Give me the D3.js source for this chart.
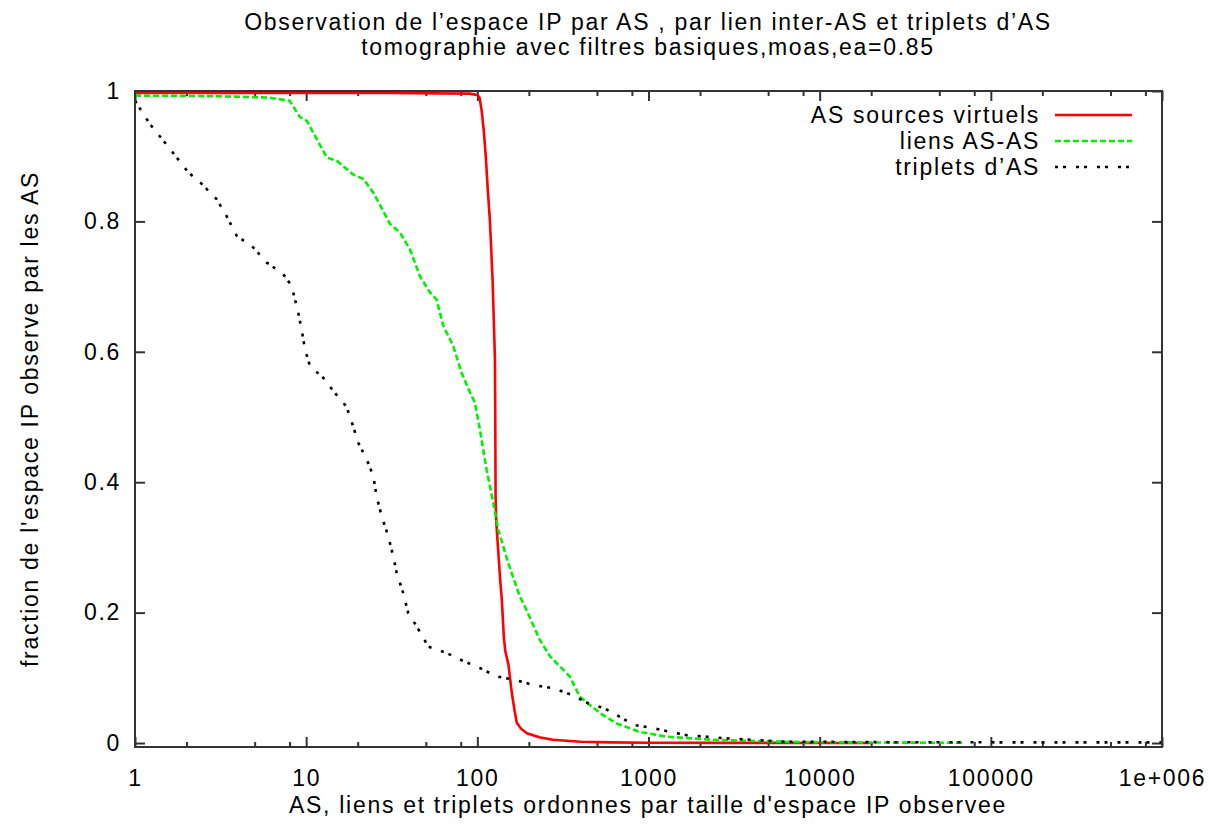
<!DOCTYPE html>
<html><head><meta charset="utf-8">
<script src="https://cdn.jsdelivr.net/npm/d3@7"></script>
<style>
html,body{margin:0;padding:0;background:#fff;}
text{font-family:"Liberation Sans",Arial,Helvetica,sans-serif;font-size:23px;fill:#000;letter-spacing:1.7px;}
</style></head>
<body><svg id="c" width="1210" height="829"></svg>
<script>
// ---- data ----
const titleLines = ["Observation de l’espace IP par AS , par lien inter-AS et triplets d’AS",
                    "tomographie avec filtres basiques,moas,ea=0.85"];
const xLabel = "AS, liens et triplets ordonnes par taille d'espace IP observee";
const yLabel = "fraction de l'espace IP observe par les AS";
const seriesNames = ["AS sources virtuels", "liens AS-AS", "triplets d’AS"];
const xTickValues = [1, 10, 100, 1000, 10000, 100000, 1000000];
const xTickLabels = ["1", "10", "100", "1000", "10000", "100000", "1e+006"];
const yTickValues = [0, 0.2, 0.4, 0.6, 0.8, 1];
const yTickLabels = ["0", "0.2", "0.4", "0.6", "0.8", "1"];

const redSeries = [[1,0.997],[30,0.997],[90,0.996],[100,0.994],[103,0.99],[106,0.97],[109,0.94],[112,0.9],[115,0.85],[118.5,0.8],[122.8,0.71],[126.7,0.59],[127.2,0.52],[127.5,0.45],[127.8,0.38],[129,0.34],[132,0.30],[136,0.25],[139,0.22],[141,0.19],[143,0.16],[146,0.14],[152,0.12],[159,0.077],[165,0.05],[170,0.031],[180,0.022],[195,0.015],[230,0.009],[276,0.005],[400,0.002],[600,0.001],[1000,0.0005],[3000,0.0002],[20000,0]];
const greenSeries = [[1,0.993],[3,0.992],[6,0.99],[8,0.985],[9.2,0.96],[10.1,0.954],[13.2,0.898],[15.1,0.893],[18.8,0.872],[21.6,0.865],[24.7,0.844],[28.2,0.816],[30.9,0.796],[35.3,0.783],[40.4,0.757],[46.2,0.716],[52.9,0.691],[57.8,0.68],[63.2,0.64],[72.3,0.609],[80.9,0.568],[90.5,0.538],[96.8,0.522],[103.5,0.481],[113.3,0.419],[123.8,0.369],[132.5,0.327],[151.6,0.276],[177.4,0.224],[185.4,0.215],[232,0.158],[265.5,0.133],[347,0.102],[397,0.071],[520,0.046],[651,0.03],[891,0.017],[1275,0.0097],[2500,0.0046],[7660,0.0015],[20000,0.0008],[68600,0.0003]];
const blackSeries = [[1,0.985],[1.224,0.949],[1.463,0.924],[1.752,0.898],[2.05,0.875],[2.4,0.86],[3.0,0.834],[3.43,0.808],[3.93,0.778],[4.91,0.76],[5.88,0.737],[7.35,0.719],[8.23,0.701],[8.99,0.66],[9.41,0.634],[9.84,0.604],[10.52,0.578],[12.6,0.56],[14.4,0.54],[17.2,0.516],[18.8,0.486],[20.2,0.46],[22.6,0.435],[24.7,0.409],[25.8,0.378],[27.6,0.348],[30.2,0.317],[32.3,0.286],[33.8,0.261],[36.9,0.23],[39.5,0.199],[44.2,0.179],[51.7,0.148],[66.2,0.138],[80.9,0.127],[103.5,0.115],[129.6,0.102],[166,0.097],[212,0.089],[277,0.084],[355,0.074],[444,0.061],[556,0.053],[681,0.04],[814,0.028],[1065,0.023],[1333,0.017],[1668,0.012],[2183,0.0097],[2857,0.0072],[3740,0.0055],[4893,0.0035],[6406,0.002],[30000,0.0012],[200000,0.001],[1000000,0.001]];
const seriesData = [redSeries, greenSeries, blackSeries];
const seriesColors = ["#ff0000", "#00f000", "#000000"];
const seriesDash = [null, "6,3", "3,5,3,10"];

// ---- layout ----
const L = 135, R = 1162, T = 91, B = 747;
const svg = d3.select("#c");
const x = d3.scaleLog().domain([1, 1e6]).range([L, R]);
const y = d3.scaleLinear().domain([-0.0061, 1]).range([B, T]);

svg.append("defs").append("clipPath").attr("id","clip")
  .append("rect").attr("x",L).attr("y",T).attr("width",R-L).attr("height",B-T);

// minor ticks at 2,5,8 per decade
const minorX = [];
for (let d = 1; d < 1e6; d *= 10) [2,5,8].forEach(m => minorX.push(d*m));

const tickColor = "#333";
const axB = d3.axisBottom(x).tickValues(xTickValues).tickFormat((d,i)=>xTickLabels[i]).tickSizeInner(-10).tickSizeOuter(0).tickPadding(23);
svg.append("g").attr("transform",`translate(0,${B})`).call(axB);
const axBm = d3.axisBottom(x).tickValues(minorX).tickFormat("").tickSizeInner(-5).tickSizeOuter(0);
svg.append("g").attr("transform",`translate(0,${B})`).call(axBm);
const axT = d3.axisTop(x).tickValues(xTickValues).tickFormat("").tickSizeInner(-10).tickSizeOuter(0);
svg.append("g").attr("transform",`translate(0,${T})`).call(axT);
const axTm = d3.axisTop(x).tickValues(minorX).tickFormat("").tickSizeInner(-5).tickSizeOuter(0);
svg.append("g").attr("transform",`translate(0,${T})`).call(axTm);
const axL = d3.axisLeft(y).tickValues(yTickValues).tickFormat((d,i)=>yTickLabels[i]).tickSizeInner(-10).tickSizeOuter(0).tickPadding(14);
svg.append("g").attr("transform",`translate(${L},0)`).call(axL);
const axR = d3.axisRight(y).tickValues(yTickValues).tickFormat("").tickSizeInner(-10).tickSizeOuter(0);
svg.append("g").attr("transform",`translate(${R},0)`).call(axR);

svg.selectAll(".domain").remove();
svg.selectAll(".tick line").attr("stroke",tickColor).attr("stroke-width",2);
svg.selectAll(".tick text").attr("font-size",23).attr("fill","#000")
  .style("font-family",'"Liberation Sans",Arial,sans-serif');

// series
const line = d3.line().x(d=>x(d[0])).y(d=>y(d[1]));
const gS = svg.append("g").attr("clip-path","url(#clip)");
seriesData.forEach((s,i)=>{
  gS.append("path").datum(s).attr("d",line).attr("fill","none")
    .attr("stroke",seriesColors[i]).attr("stroke-width",2.6)
    .attr("stroke-dasharray",seriesDash[i]);
});

// frame
svg.append("rect").attr("x",L).attr("y",T).attr("width",R-L).attr("height",B-T)
  .attr("fill","none").attr("stroke",tickColor).attr("stroke-width",2);

// legend
const legY = [115, 141, 167];
seriesNames.forEach((n,i)=>{
  svg.append("text").attr("x",1040).attr("y",legY[i]).attr("dy","0.35em")
    .attr("text-anchor","end").text(n);
  svg.append("line").attr("x1",1055).attr("x2",1132).attr("y1",legY[i]).attr("y2",legY[i])
    .attr("stroke",seriesColors[i]).attr("stroke-width",2.6).attr("stroke-dasharray",seriesDash[i]);
});

// titles
svg.append("text").attr("x",648).attr("y",30).attr("text-anchor","middle").text(titleLines[0]);
svg.append("text").attr("x",648).attr("y",55).attr("text-anchor","middle").text(titleLines[1]);
svg.append("text").attr("x",648).attr("y",813).attr("text-anchor","middle").text(xLabel);
svg.append("text").attr("transform",`translate(38,419) rotate(-90)`).attr("text-anchor","middle").text(yLabel);
</script></body></html>
